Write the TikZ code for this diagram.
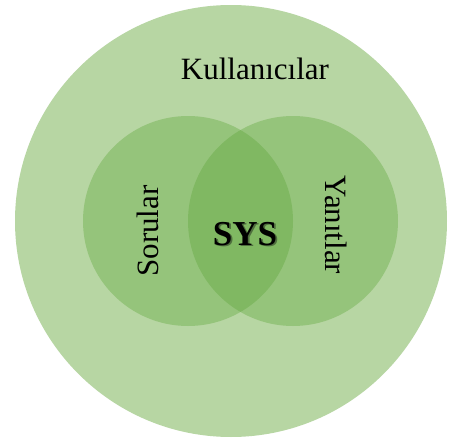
\documentclass[tikz,border=0pt]{standalone}
\usepackage{fontspec}
\setmainfont{Liberation Serif}
\definecolor{outerg}{HTML}{B7D6A3}
\definecolor{innerg}{HTML}{95C47B}
\definecolor{overg}{HTML}{80B862}
\definecolor{shadowg}{HTML}{4F6E3E}
\tikzset{
  lbl/.style={inner sep=0pt, font=\fontsize{31}{36}\selectfont, text=black},
  syslbl/.style={inner sep=0pt, font=\fontsize{35}{40}\selectfont\bfseries},
}
\begin{document}
\begin{tikzpicture}[x=1pt,y=-1pt]
\useasboundingbox (0,0) rectangle (451,442);
\fill[white] (0,0) rectangle (451,442);
\fill[outerg] (231,221) circle (216);
\fill[innerg] (188,221) circle (105);
\fill[innerg] (293,221) circle (105);
\begin{scope}
  \clip (188,221) circle (105);
  \fill[overg] (293,221) circle (105);
\end{scope}
\node[lbl, anchor=base] (users) at (255,79) {Kullanıcılar};
\node[lbl, anchor=base, rotate=90] (q) at (158,231) {Sorular};
\node[lbl, anchor=base, rotate=-90] (a) at (325,225) {Yanıtlar};
\node[syslbl, anchor=base, text=black] (sys) at (245,245)
  {\makebox[0pt][l]{\hspace{1.8pt}\raisebox{-1.8pt}{\textcolor{shadowg}{SYS}}}SYS};
\end{tikzpicture}
\end{document}
